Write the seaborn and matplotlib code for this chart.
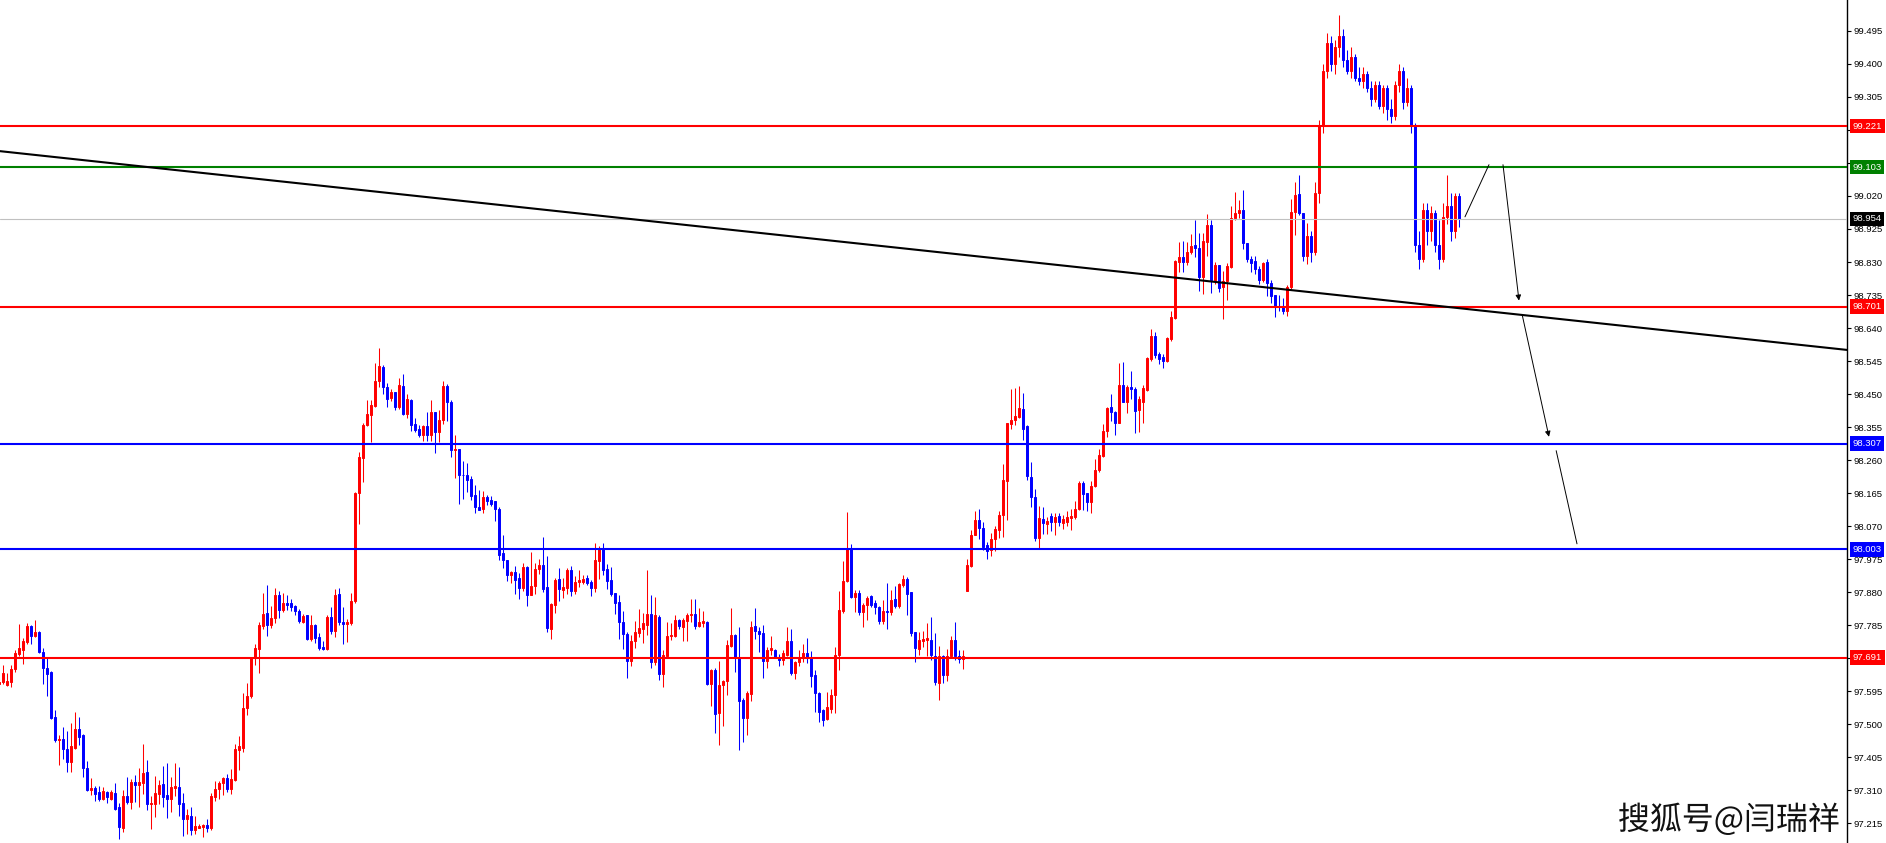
import numpy as np
import pandas as pd
import matplotlib
matplotlib.use("Agg")
import matplotlib.pyplot as plt
import matplotlib.patheffects as pe
import seaborn as sns

# candle data (price), one entry per bar
opens = [
    97.617, 97.622, 97.613, 97.622, 97.658, 97.702, 97.713, 97.737, 97.782, 97.754,
    97.765, 97.707, 97.661, 97.650, 97.520, 97.455, 97.457, 97.428, 97.392, 97.432,
    97.486, 97.468, 97.374, 97.310, 97.316, 97.304, 97.286, 97.304, 97.286, 97.302,
    97.261, 97.201, 97.293, 97.275, 97.333, 97.326, 97.332, 97.362, 97.271, 97.271,
    97.300, 97.327, 97.296, 97.284, 97.317, 97.319, 97.273, 97.228, 97.235, 97.195,
    97.201, 97.205, 97.209, 97.202, 97.289, 97.313, 97.331, 97.345, 97.314, 97.340,
    97.425, 97.431, 97.547, 97.580, 97.690, 97.717, 97.782, 97.820, 97.786, 97.805,
    97.873, 97.829, 97.849, 97.849, 97.841, 97.827, 97.793, 97.813, 97.746, 97.786,
    97.751, 97.723, 97.717, 97.808, 97.767, 97.875, 97.793, 97.789, 97.791, 97.855,
    98.165, 98.265, 98.362, 98.390, 98.417, 98.488, 98.528, 98.470, 98.438, 98.457,
    98.414, 98.474, 98.394, 98.434, 98.365, 98.350, 98.333, 98.359, 98.333, 98.397,
    98.340, 98.374, 98.474, 98.426, 98.288, 98.292, 98.218, 98.218, 98.206, 98.160,
    98.124, 98.120, 98.155, 98.144, 98.141, 98.120, 97.992, 97.973, 97.930, 97.937,
    97.921, 97.893, 97.951, 97.872, 97.899, 97.947, 97.959, 97.895, 97.774, 97.844,
    97.918, 97.887, 97.892, 97.944, 97.882, 97.908, 97.910, 97.920, 97.908, 97.893,
    97.970, 98.007, 97.946, 97.915, 97.877, 97.852, 97.795, 97.760, 97.681, 97.740,
    97.763, 97.775, 97.786, 97.818, 97.678, 97.808, 97.645, 97.695, 97.755, 97.754,
    97.800, 97.781, 97.798, 97.813, 97.818, 97.783, 97.790, 97.795, 97.616, 97.657,
    97.532, 97.612, 97.623, 97.726, 97.757, 97.690, 97.570, 97.518, 97.588, 97.783,
    97.769, 97.762, 97.681, 97.714, 97.714, 97.690, 97.684, 97.700, 97.740, 97.647,
    97.678, 97.690, 97.704, 97.690, 97.642, 97.590, 97.540, 97.515, 97.544, 97.583,
    97.698, 97.827, 97.911, 98.004, 97.866, 97.877, 97.824, 97.842, 97.869, 97.850,
    97.836, 97.796, 97.825, 97.822, 97.860, 97.839, 97.901, 97.918, 97.879, 97.764,
    97.717, 97.738, 97.743, 97.741, 97.697, 97.618, 97.695, 97.642, 97.695, 97.743,
    97.697, 97.687, 97.882, 97.954, 98.045, 98.088, 98.064, 98.016, 98.002, 98.033,
    98.059, 98.101, 98.201, 98.364, 98.374, 98.385, 98.408, 98.357, 98.211, 98.155,
    98.036, 98.090, 98.077, 98.098, 98.083, 98.098, 98.080, 98.083, 98.093, 98.096,
    98.119, 98.194, 98.165, 98.138, 98.184, 98.230, 98.272, 98.345, 98.412, 98.397,
    98.366, 98.476, 98.426, 98.470, 98.464, 98.403, 98.428, 98.462, 98.551, 98.616,
    98.565, 98.558, 98.546, 98.609, 98.670, 98.829, 98.843, 98.829, 98.860, 98.879,
    98.870, 98.786, 98.889, 98.937, 98.777, 98.820, 98.757, 98.774, 98.817, 98.956,
    98.970, 98.980, 98.886, 98.838, 98.833, 98.810, 98.778, 98.829, 98.771, 98.735,
    98.704, 98.702, 98.690, 98.757, 98.973, 99.026, 98.972, 98.846, 98.905, 98.860,
    99.030, 99.220, 99.380, 99.460, 99.400, 99.450, 99.480, 99.410, 99.380, 99.420,
    99.360, 99.350, 99.370, 99.330, 99.300, 99.340, 99.280, 99.330, 99.270, 99.250,
    99.340, 99.380, 99.290, 99.330, 99.220, 98.880, 98.840, 98.980, 98.920, 98.970,
    98.880, 98.840, 98.960, 98.990, 98.920, 99.020,
]
highs = [
    97.630, 97.670, 97.647, 97.670, 97.712, 97.788, 97.748, 97.790, 97.785, 97.800,
    97.768, 97.718, 97.689, 97.652, 97.540, 97.468, 97.492, 97.480, 97.502, 97.535,
    97.520, 97.473, 97.394, 97.344, 97.323, 97.322, 97.320, 97.307, 97.310, 97.330,
    97.272, 97.310, 97.348, 97.341, 97.353, 97.373, 97.443, 97.397, 97.293, 97.351,
    97.339, 97.379, 97.389, 97.347, 97.389, 97.376, 97.301, 97.255, 97.262, 97.235,
    97.214, 97.214, 97.226, 97.302, 97.336, 97.336, 97.349, 97.356, 97.370, 97.444,
    97.466, 97.590, 97.618, 97.690, 97.731, 97.793, 97.878, 97.901, 97.839, 97.892,
    97.882, 97.877, 97.871, 97.860, 97.843, 97.830, 97.816, 97.815, 97.815, 97.789,
    97.763, 97.738, 97.813, 97.838, 97.890, 97.893, 97.836, 97.803, 97.878, 98.167,
    98.283, 98.368, 98.434, 98.434, 98.539, 98.583, 98.535, 98.482, 98.464, 98.457,
    98.497, 98.507, 98.451, 98.436, 98.381, 98.362, 98.362, 98.397, 98.432, 98.397,
    98.403, 98.488, 98.478, 98.432, 98.333, 98.293, 98.257, 98.252, 98.214, 98.188,
    98.174, 98.171, 98.160, 98.157, 98.141, 98.126, 98.045, 97.973, 97.942, 97.955,
    97.935, 97.965, 97.956, 97.995, 97.964, 97.975, 98.039, 97.985, 97.849, 97.921,
    97.950, 97.920, 97.950, 97.955, 97.925, 97.945, 97.929, 97.928, 97.915, 98.022,
    98.012, 98.022, 97.960, 97.952, 97.877, 97.871, 97.826, 97.766, 97.758, 97.797,
    97.832, 97.821, 97.944, 97.872, 97.866, 97.815, 97.714, 97.794, 97.790, 97.814,
    97.803, 97.806, 97.819, 97.860, 97.861, 97.835, 97.826, 97.798, 97.660, 97.662,
    97.681, 97.627, 97.743, 97.835, 97.760, 97.781, 97.574, 97.596, 97.796, 97.835,
    97.779, 97.786, 97.721, 97.754, 97.717, 97.703, 97.712, 97.781, 97.774, 97.683,
    97.712, 97.732, 97.748, 97.711, 97.655, 97.592, 97.544, 97.592, 97.600, 97.723,
    97.884, 97.969, 98.111, 98.019, 97.886, 97.886, 97.850, 97.868, 97.871, 97.858,
    97.840, 97.858, 97.906, 97.886, 97.898, 97.906, 97.930, 97.923, 97.881, 97.764,
    97.764, 97.767, 97.791, 97.808, 97.762, 97.724, 97.700, 97.717, 97.755, 97.794,
    97.714, 97.714, 97.975, 98.059, 98.114, 98.119, 98.083, 98.023, 98.049, 98.069,
    98.112, 98.249, 98.366, 98.464, 98.466, 98.474, 98.453, 98.360, 98.254, 98.176,
    98.129, 98.126, 98.096, 98.107, 98.107, 98.107, 98.102, 98.112, 98.118, 98.143,
    98.200, 98.200, 98.165, 98.200, 98.263, 98.291, 98.364, 98.414, 98.450, 98.400,
    98.540, 98.543, 98.477, 98.516, 98.470, 98.445, 98.477, 98.558, 98.637, 98.630,
    98.570, 98.565, 98.615, 98.689, 98.835, 98.888, 98.890, 98.888, 98.910, 98.951,
    98.914, 98.914, 98.968, 98.951, 98.830, 98.822, 98.805, 98.826, 98.991, 99.031,
    99.009, 99.037, 98.886, 98.848, 98.848, 98.818, 98.831, 98.838, 98.778, 98.735,
    98.735, 98.727, 98.765, 99.010, 99.059, 99.080, 98.972, 98.943, 98.920, 99.060,
    99.240, 99.400, 99.490, 99.480, 99.470, 99.540, 99.500, 99.440, 99.450, 99.430,
    99.390, 99.390, 99.380, 99.350, 99.350, 99.350, 99.340, 99.340, 99.300, 99.350,
    99.400, 99.390, 99.360, 99.340, 99.230, 98.920, 99.000, 99.000, 98.990, 98.980,
    98.950, 99.000, 99.080, 99.030, 99.030, 99.030,
]
lows = [
    97.610, 97.617, 97.610, 97.608, 97.651, 97.696, 97.673, 97.732, 97.731, 97.751,
    97.706, 97.615, 97.581, 97.516, 97.449, 97.382, 97.401, 97.363, 97.363, 97.428,
    97.440, 97.348, 97.307, 97.296, 97.279, 97.278, 97.283, 97.272, 97.282, 97.253,
    97.170, 97.191, 97.271, 97.256, 97.275, 97.262, 97.299, 97.253, 97.198, 97.234,
    97.271, 97.262, 97.230, 97.248, 97.293, 97.235, 97.178, 97.184, 97.181, 97.183,
    97.200, 97.174, 97.190, 97.195, 97.279, 97.284, 97.296, 97.306, 97.300, 97.335,
    97.368, 97.420, 97.527, 97.575, 97.670, 97.648, 97.773, 97.755, 97.776, 97.792,
    97.805, 97.822, 97.828, 97.827, 97.814, 97.792, 97.790, 97.741, 97.738, 97.733,
    97.714, 97.712, 97.714, 97.760, 97.751, 97.786, 97.732, 97.737, 97.785, 97.850,
    98.077, 98.198, 98.358, 98.313, 98.414, 98.471, 98.449, 98.413, 98.431, 98.405,
    98.408, 98.391, 98.381, 98.344, 98.342, 98.327, 98.315, 98.315, 98.314, 98.280,
    98.313, 98.363, 98.373, 98.270, 98.207, 98.135, 98.148, 98.169, 98.145, 98.109,
    98.115, 98.108, 98.132, 98.129, 98.085, 97.973, 97.948, 97.911, 97.905, 97.876,
    97.861, 97.882, 97.839, 97.871, 97.875, 97.931, 97.881, 97.766, 97.746, 97.821,
    97.853, 97.862, 97.876, 97.870, 97.874, 97.896, 97.903, 97.900, 97.870, 97.881,
    97.919, 97.930, 97.890, 97.869, 97.818, 97.746, 97.715, 97.634, 97.666, 97.719,
    97.750, 97.733, 97.758, 97.661, 97.671, 97.626, 97.606, 97.692, 97.743, 97.750,
    97.775, 97.739, 97.740, 97.794, 97.775, 97.779, 97.781, 97.612, 97.553, 97.475,
    97.439, 97.495, 97.585, 97.723, 97.651, 97.427, 97.450, 97.470, 97.567, 97.745,
    97.709, 97.634, 97.663, 97.698, 97.689, 97.666, 97.669, 97.696, 97.642, 97.629,
    97.668, 97.680, 97.677, 97.608, 97.536, 97.507, 97.494, 97.513, 97.532, 97.532,
    97.657, 97.820, 97.909, 97.863, 97.824, 97.815, 97.780, 97.801, 97.836, 97.818,
    97.789, 97.789, 97.774, 97.814, 97.835, 97.834, 97.895, 97.813, 97.755, 97.680,
    97.700, 97.723, 97.697, 97.685, 97.612, 97.570, 97.618, 97.623, 97.690, 97.685,
    97.676, 97.659, 97.882, 97.952, 98.045, 98.034, 98.002, 97.974, 97.984, 97.999,
    98.036, 98.040, 98.087, 98.348, 98.360, 98.380, 98.317, 98.204, 98.125, 98.026,
    98.007, 98.046, 98.047, 98.057, 98.044, 98.069, 98.063, 98.069, 98.060, 98.090,
    98.116, 98.116, 98.114, 98.108, 98.182, 98.227, 98.269, 98.325, 98.373, 98.333,
    98.366, 98.426, 98.395, 98.435, 98.339, 98.341, 98.366, 98.458, 98.546, 98.553,
    98.537, 98.526, 98.541, 98.604, 98.666, 98.800, 98.800, 98.821, 98.853, 98.845,
    98.747, 98.738, 98.847, 98.740, 98.766, 98.744, 98.667, 98.722, 98.813, 98.951,
    98.958, 98.868, 98.831, 98.802, 98.796, 98.767, 98.772, 98.731, 98.713, 98.673,
    98.688, 98.681, 98.675, 98.752, 98.908, 98.966, 98.834, 98.824, 98.830, 98.850,
    99.000, 99.200, 99.360, 99.380, 99.370, 99.420, 99.390, 99.370, 99.360, 99.350,
    99.340, 99.330, 99.320, 99.280, 99.290, 99.270, 99.260, 99.240, 99.230, 99.240,
    99.320, 99.270, 99.280, 99.200, 98.860, 98.810, 98.830, 98.880, 98.890, 98.860,
    98.810, 98.830, 98.940, 98.890, 98.900, 98.930,
]
closes = [
    97.621, 97.648, 97.625, 97.659, 97.706, 97.718, 97.740, 97.782, 97.754, 97.765,
    97.708, 97.662, 97.644, 97.518, 97.454, 97.457, 97.428, 97.392, 97.437, 97.486,
    97.464, 97.374, 97.310, 97.315, 97.300, 97.284, 97.307, 97.289, 97.304, 97.256,
    97.205, 97.293, 97.275, 97.333, 97.326, 97.333, 97.359, 97.271, 97.273, 97.302,
    97.325, 97.291, 97.284, 97.319, 97.322, 97.271, 97.227, 97.238, 97.195, 97.206,
    97.206, 97.209, 97.202, 97.293, 97.313, 97.331, 97.345, 97.313, 97.343, 97.429,
    97.436, 97.546, 97.582, 97.690, 97.719, 97.786, 97.818, 97.786, 97.805, 97.873,
    97.829, 97.849, 97.844, 97.837, 97.827, 97.796, 97.810, 97.746, 97.786, 97.748,
    97.719, 97.717, 97.808, 97.767, 97.873, 97.793, 97.787, 97.793, 97.855, 98.165,
    98.268, 98.362, 98.393, 98.419, 98.488, 98.531, 98.470, 98.436, 98.457, 98.414,
    98.477, 98.392, 98.436, 98.362, 98.347, 98.333, 98.359, 98.333, 98.397, 98.340,
    98.374, 98.474, 98.426, 98.288, 98.292, 98.216, 98.216, 98.203, 98.158, 98.124,
    98.117, 98.155, 98.141, 98.134, 98.120, 97.987, 97.971, 97.928, 97.937, 97.915,
    97.893, 97.953, 97.872, 97.899, 97.947, 97.959, 97.890, 97.778, 97.846, 97.915,
    97.889, 97.894, 97.944, 97.882, 97.910, 97.915, 97.919, 97.906, 97.893, 97.973,
    98.007, 97.944, 97.913, 97.875, 97.850, 97.793, 97.760, 97.681, 97.740, 97.766,
    97.777, 97.791, 97.818, 97.678, 97.813, 97.645, 97.699, 97.754, 97.757, 97.800,
    97.783, 97.800, 97.815, 97.818, 97.783, 97.794, 97.796, 97.615, 97.657, 97.530,
    97.613, 97.623, 97.729, 97.757, 97.693, 97.568, 97.518, 97.590, 97.779, 97.769,
    97.760, 97.681, 97.714, 97.719, 97.693, 97.686, 97.705, 97.740, 97.647, 97.679,
    97.693, 97.706, 97.693, 97.640, 97.590, 97.534, 97.513, 97.548, 97.585, 97.700,
    97.829, 97.913, 98.004, 97.865, 97.877, 97.824, 97.844, 97.863, 97.844, 97.836,
    97.796, 97.826, 97.822, 97.858, 97.839, 97.904, 97.917, 97.875, 97.762, 97.719,
    97.741, 97.746, 97.748, 97.700, 97.620, 97.695, 97.642, 97.695, 97.743, 97.695,
    97.687, 97.697, 97.957, 98.045, 98.088, 98.064, 98.009, 97.999, 98.033, 98.061,
    98.102, 98.203, 98.366, 98.376, 98.387, 98.409, 98.350, 98.213, 98.153, 98.036,
    98.093, 98.078, 98.086, 98.083, 98.095, 98.083, 98.091, 98.095, 98.098, 98.119,
    98.194, 98.163, 98.138, 98.186, 98.232, 98.275, 98.344, 98.409, 98.397, 98.366,
    98.476, 98.426, 98.470, 98.464, 98.400, 98.435, 98.467, 98.553, 98.616, 98.563,
    98.551, 98.546, 98.611, 98.673, 98.833, 98.843, 98.831, 98.860, 98.877, 98.870,
    98.786, 98.891, 98.937, 98.777, 98.822, 98.754, 98.775, 98.819, 98.958, 98.972,
    98.980, 98.884, 98.838, 98.828, 98.810, 98.778, 98.826, 98.771, 98.733, 98.702,
    98.700, 98.690, 98.759, 98.975, 99.023, 98.972, 98.846, 98.905, 98.860, 99.030,
    99.220, 99.380, 99.460, 99.400, 99.450, 99.480, 99.410, 99.380, 99.420, 99.360,
    99.350, 99.370, 99.330, 99.300, 99.340, 99.280, 99.330, 99.270, 99.250, 99.340,
    99.380, 99.290, 99.330, 99.220, 98.880, 98.840, 98.980, 98.920, 98.970, 98.880,
    98.840, 98.960, 98.990, 98.920, 99.020, 98.954,
]

# horizontal levels and their colours
levels = [99.221, 99.103, 98.954, 98.701, 98.307, 98.003, 97.691]
level_colors = ["#FF0000", "#008000", "#C0C0C0", "#FF0000", "#0000FF", "#0000FF", "#FF0000"]
label_colors = ["#FF0000", "#008000", "#000000", "#FF0000", "#0000FF", "#0000FF", "#FF0000"]

# falling trend line (bar index, price)
trend_x = [0.175, 461.9]
trend_y = [99.149, 98.577]

# projected path drawn after the last bar (bar index, price)
path_x = [366.4, 372.4, 375.9, 379.9, 380.7, 387.4, 389.2, 394.4]
path_y = [98.960, 99.110, 99.110, 98.719, 98.678, 98.327, 98.287, 98.019]
path_heads = [False, True, True, False]

yticks = [round(97.215 + 0.095 * k, 3) for k in range(25)]

df = pd.DataFrame({"open": opens, "high": highs, "low": lows, "close": closes})
df["idx"] = np.arange(len(df))
up = df["close"] >= df["open"]
colors = np.where(up, "#FF0000", "#0000FF")

sns.set_theme(style="white")
plt.rcParams["font.family"] = ["Liberation Sans", "Noto Sans CJK SC", "DejaVu Sans"]

fig = plt.figure(figsize=(18.86, 8.43), dpi=100)
ax = fig.add_axes([0, 0, 1847 / 1886, 1])
ax.set_facecolor("white")

# candles
ax.vlines(df["idx"], df["low"], df["high"], colors=colors, linewidth=0.75, zorder=2)
ax.bar(df["idx"], df["close"] - df["open"], bottom=df["open"], width=0.55,
       color=colors, edgecolor=colors, linewidth=0.7, zorder=2)

# levels
for lvl, col in zip(levels, level_colors):
    lw = 0.8 if col == "#C0C0C0" else 1.5
    ax.axhline(lvl, color=col, linewidth=lw, zorder=3)

sns.lineplot(x=trend_x, y=trend_y, ax=ax, color="black", linewidth=1.5, zorder=4)

for k, head in enumerate(path_heads):
    x0, x1 = path_x[2 * k], path_x[2 * k + 1]
    y0, y1 = path_y[2 * k], path_y[2 * k + 1]
    ax.annotate("", xy=(x1, y1), xytext=(x0, y0),
                arrowprops=dict(arrowstyle="-|>" if head else "-", color="black",
                                lw=0.7, mutation_scale=8, shrinkA=0, shrinkB=0),
                zorder=5)

ax.set_xlim(0.175, 461.9)
ax.set_ylim(97.158, 99.584)

for side in ["left", "top", "bottom"]:
    ax.spines[side].set_visible(False)
ax.spines["right"].set_color("black")
ax.spines["right"].set_linewidth(1.0)

ax.set_xticks([])
ax.yaxis.tick_right()
ax.set_yticks(yticks)
ax.set_yticklabels([f"{t:.3f}" for t in yticks])
ax.tick_params(axis="y", direction="out", length=3, width=0.8, pad=2,
               labelsize=6.8, colors="black", right=True)
ax.grid(False)

# price tags on the axis
for lvl, bc in zip(levels, label_colors):
    ax.text(1.003, lvl, f"{lvl:.3f}", transform=ax.get_yaxis_transform(),
            ha="left", va="center", fontsize=6.8, color="white", clip_on=False,
            bbox=dict(boxstyle="square,pad=0.3", fc=bc, ec="none"), zorder=10)

fig.text(0.9757, 0.027, "搜狐号@闫瑞祥", fontsize=23, ha="right", va="center",
         family=["Noto Sans CJK SC"], color="#111111",
         path_effects=[pe.withStroke(linewidth=2, foreground="white")])

fig.savefig("out.png", dpi=100)
